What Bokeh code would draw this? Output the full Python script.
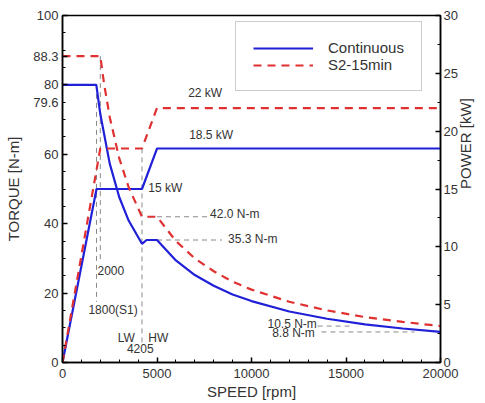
import math
from bokeh.plotting import figure
from bokeh.models import Range1d, LinearAxis, FixedTicker, Label, Legend, LegendItem
from bokeh.embed import file_html
from bokeh.resources import INLINE

# ---- data ----
cont_speed = [0, 1790, 1800, 2000, 2500, 3000, 3500, 4205, 4450, 5000, 6000, 7000, 8000, 9000, 10000, 12000, 14000, 16000, 18000, 20000]
cont_torque = [80, 80, 79.6, 71.6, 57.3, 47.7, 40.9, 34.2, 35.3, 35.3, 29.4, 25.2, 22.1, 19.6, 17.7, 14.7, 12.6, 11.0, 9.8, 8.8]
cont_pspeed = [0, 1800, 4205, 5000, 20000]
cont_power = [0, 15, 15, 18.5, 18.5]

s2_speed = [0, 2000, 2200, 2500, 3000, 3500, 4205, 5000, 6000, 7000, 8000, 9000, 10000, 12000, 14000, 16000, 18000, 20000]
s2_torque = [88.3, 88.3, 80.3, 70.7, 58.9, 50.5, 42.0, 42.0, 35.0, 30.0, 26.3, 23.3, 21.0, 17.5, 15.0, 13.1, 11.7, 10.5]
s2_pspeed = [0, 2000, 4205, 5000, 20000]
s2_power = [0, 18.5, 18.5, 22, 22]

x_ticks = [0, 5000, 10000, 15000, 20000]
x_minor = [v for v in range(0, 20001, 1000)]
t_ticks = [0, 20, 40, 60, 80, 88.3, 100]
t_labels = {80: "\n80\n79.6"}
t_minor = [v for v in range(0, 101, 5)]
p_ticks = [0, 5, 10, 15, 20, 25, 30]
p_minor = [v * 2.5 for v in range(0, 13)]

FONT = "Liberation Sans"
TXT = "#333333"
BLUE = "#2020d8"
RED = "#e03030"
GRAY = "#8a8a8a"

p = figure(width=485, height=403, output_backend="svg", toolbar_location=None,
           x_range=Range1d(0, 20000), y_range=Range1d(0, 100),
           min_border_left=62, min_border_right=44, min_border_top=15, min_border_bottom=41)
p.extra_y_ranges = {"power": Range1d(0, 30)}
p.xgrid.visible = False
p.ygrid.visible = False
p.outline_line_color = "black"
p.outline_line_width = 1.5

def style(ax):
    ax.axis_line_color = "black"
    ax.axis_line_width = 1.5
    ax.major_tick_in = 5
    ax.major_tick_out = 0
    ax.minor_tick_in = 3
    ax.minor_tick_out = 0
    ax.major_tick_line_width = 1.5
    ax.major_label_text_font = FONT
    ax.major_label_text_font_size = "13px"
    ax.major_label_text_color = TXT
    ax.axis_label_text_font = FONT
    ax.axis_label_text_font_size = "15px"
    ax.axis_label_text_font_style = "normal"
    ax.axis_label_text_color = TXT

xa = p.xaxis[0]
xa.ticker = FixedTicker(ticks=x_ticks, minor_ticks=x_minor)
xa.axis_label = "SPEED [rpm]"
style(xa)
xa.major_label_standoff = 6
xa.axis_label_standoff = 2

ya = p.yaxis[0]
ya.ticker = FixedTicker(ticks=t_ticks, minor_ticks=t_minor)
ya.major_label_overrides = t_labels
ya.axis_label = "TORQUE [N-m]"
style(ya)
ya.major_label_standoff = 4
ya.axis_label_standoff = 8

ra = LinearAxis(y_range_name="power", axis_label="POWER [kW]",
                ticker=FixedTicker(ticks=p_ticks, minor_ticks=p_minor))
style(ra)
ra.major_label_standoff = 3
ra.axis_label_standoff = 5
ra.axis_label_orientation = math.pi / 2
p.add_layout(ra, "right")

# gray dashed reference lines
def gline(xs, ys, rng="default"):
    p.line(xs, ys, line_color=GRAY, line_width=1, line_dash="5 4", y_range_name=rng)

gline([1800, 1800], [80, 17.5])
gline([2000, 2000], [88.3, 29])
gline([4205, 4205], [61.7, 5])
gline([5000, 7700], [42.0, 42.0])
gline([5000, 8440], [35.3, 35.3])
gline([13500, 15350], [10.5, 10.5])
gline([13700, 18630], [8.8, 8.8])

r1 = p.line(cont_speed, cont_torque, line_color=BLUE, line_width=2.2)
p.line(cont_pspeed, cont_power, line_color=BLUE, line_width=2.2, y_range_name="power")
r2 = p.line(s2_speed, s2_torque, line_color=RED, line_width=2.2, line_dash="8 6")
p.line(s2_pspeed, s2_power, line_color=RED, line_width=2.2, line_dash="8 6", y_range_name="power")

leg = Legend(items=[LegendItem(label="Continuous", renderers=[r1]),
                    LegendItem(label="S2-15min", renderers=[r2])],
             location=(173, 271), padding=17, spacing=0, margin=0,
             glyph_width=60, glyph_height=16, label_height=16, label_width=75,
             label_standoff=15, label_text_font=FONT, label_text_font_size="15px",
             label_text_color=TXT, border_line_color="#999999", border_line_width=1.5,
             background_fill_color="white", background_fill_alpha=1)
p.add_layout(leg, "center")

def lab(x, y, t, align="left", rng="default"):
    p.add_layout(Label(x=x, y=y, text=t, text_align=align, text_baseline="middle",
                       text_font=FONT, text_font_size="12px", text_color=TXT, y_range_name=rng))

lab(6650, 23.3, "22 kW", rng="power")
lab(6700, 19.7, "18.5 kW", rng="power")
lab(4540, 15.1, "15 kW", rng="power")
lab(7810, 42.9, "42.0 N-m")
lab(8760, 35.7, "35.3 N-m")
lab(1850, 26.5, "2000")
lab(1370, 15.0, "1800(S1)")
lab(3377, 7.2, "LW", align="center")
lab(5066, 7.2, "HW", align="center")
lab(4116, 4.0, "4205", align="center")
lab(13456, 11.0, "10.5 N-m", align="right")
lab(13351, 8.4, "8.8 N-m", align="right")

open("out.html", "w").write(file_html(p, INLINE))
